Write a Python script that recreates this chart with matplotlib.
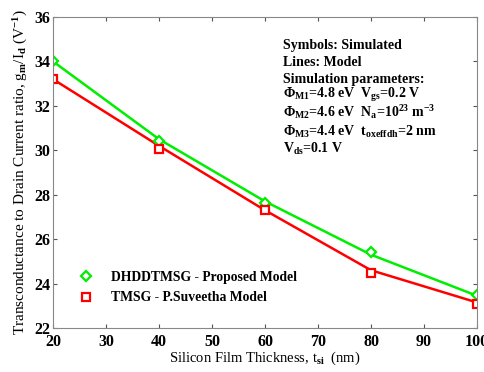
import numpy as np
import matplotlib
matplotlib.use("Agg")
import matplotlib.pyplot as plt

plt.rcParams['font.family'] = ['Liberation Serif', 'DejaVu Serif']
plt.rcParams['font.weight'] = 'bold'
plt.rcParams['mathtext.fontset'] = 'custom'
plt.rcParams['mathtext.rm'] = 'Liberation Serif:bold'
plt.rcParams['mathtext.it'] = 'Liberation Serif:bold'
plt.rcParams['mathtext.bf'] = 'Liberation Serif:bold'

# DATA
tsi = [20, 40, 60, 80, 100]
dhdd_sim = [34.0, 30.42, 27.62, 25.4, 23.5]
dhdd_model = [34.0, 30.5, 27.7, 25.3, 23.45]
tmsg_sim = [33.22, 30.08, 27.3, 24.48, 23.1]
tmsg_model = [33.2, 30.2, 27.3, 24.6, 23.15]

info_lines = ['Symbols: Simulated',
              'Lines: Model',
              'Simulation parameters:',
              r'$\Phi_{M1}$=4.8 eV  V$_{gs}$=0.2 V',
              r'$\Phi_{M2}$=4.6 eV  N$_a$=10$^{23}$ m$^{-3}$',
              r'$\Phi_{M3}$=4.4 eV  t$_{oxeffdh}$=2 nm',
              r'V$_{ds}$=0.1 V']
info_baseline_px = [49, 66, 83, 98, 117, 136, 153]

GREEN = '#00ee00'
RED = '#ff0000'

fig = plt.figure(figsize=(4.85, 3.72), dpi=100)
ax = fig.add_axes([53/485, 1 - 328/372, (477-53)/485, (328-17)/372])

ax.plot(tsi, dhdd_model, color=GREEN, lw=1.8)
ax.plot(tsi, tmsg_model, color=RED, lw=1.8)
ax.plot(tsi, dhdd_sim, ls='none', marker='D', ms=5.5, mfc='white', mec=GREEN, mew=1.6,
        label='DHDDTMSG - Proposed Model')
ax.plot(tsi, tmsg_sim, ls='none', marker='s', ms=5.5, mfc='white', mec=RED, mew=1.6,
        label='TMSG - P.Suveetha Model')

ax.set_xlim(20, 100)
ax.set_ylim(22, 36)
ax.set_xticks(np.arange(20, 101, 10))
ax.set_yticks(np.arange(22, 37, 2))
ax.tick_params(direction='in', top=True, right=True, labelsize=11.5, length=3,
               color='#555555')
ax.tick_params(axis='x', pad=4)
ax.tick_params(axis='y', pad=2)
for s in ax.spines.values():
    s.set_color('#888888')
    s.set_linewidth(0.8)

ax.set_xlabel('Silicon Film Thickness, t$_{si}$  (nm)', fontsize=10.5, labelpad=0)
ax.set_ylabel('Transconductance to Drain Current ratio, g$_m$/I$_d$ (V$^{-1}$)',
              fontsize=11, labelpad=3)

for line, ypx in zip(info_lines, info_baseline_px):
    ax.text(0.542, (328 - ypx) / 311, line, transform=ax.transAxes, fontsize=10,
            fontweight='bold', va='baseline', ha='left')

ax.legend(loc='lower left', bbox_to_anchor=(0.03, 0.045), frameon=False, fontsize=9.8,
          handletextpad=1.0, handlelength=1.6, labelspacing=0.55, borderaxespad=0.3)

fig.savefig('out.png', dpi=100)
